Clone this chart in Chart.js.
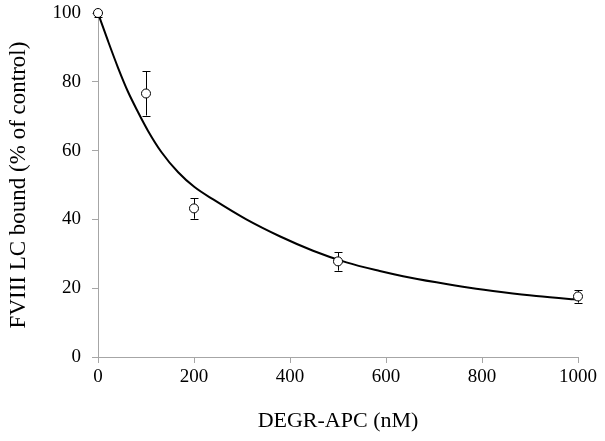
<!DOCTYPE html>
<html lang="en">
<head>
    <meta charset="UTF-8">
    <title>FVIII LC bound vs DEGR-APC</title>
    <style>
        body {
            margin: 0;
            padding: 0;
            background-color: #fff;
        }

        .canvas-container {
            width: 605px;
            height: 441px;
        }
    </style>
    <script src="https://cdn.jsdelivr.net/npm/chart.js@4.4.1/dist/chart.umd.min.js"></script>
</head>
<body>
    <div class="canvas-container">
        <canvas id="bindingChart"></canvas>
    </div>
    <script>
        // measured points (mean and error)
        const concentrations = [0, 100, 200, 500, 1000];
        const boundMeans = [100, 76.6, 43.2, 27.8, 17.6];
        const boundErrors = [1.2, 6.4, 3.0, 2.7, 1.8];

        // fitted curve
        const fitX = [0, 3.5, 21, 42, 62.5, 83, 104, 132, 167, 201, 240, 309, 378.5, 448, 517.5, 587, 635.5, 705, 774, 844, 913, 990, 1000];
        const fitY = [100, 98.6, 91.8, 84.0, 77.1, 71.3, 65.8, 59.6, 53.7, 49.4, 45.8, 40.0, 35.1, 30.9, 27.5, 25.0, 23.5, 21.7, 20.1, 18.8, 17.7, 16.8, 16.7];

        const xTicks = [0, 200, 400, 600, 800, 1000];
        const yTicks = [0, 20, 40, 60, 80, 100];

        const serif = "'Liberation Serif', 'Times New Roman', serif";

        const errorBars = {
            id: "errorBars",
            afterDatasetsDraw(chart) {
                const ctx = chart.ctx;
                const xScale = chart.scales.x;
                const yScale = chart.scales.y;
                ctx.save();
                ctx.strokeStyle = "#000";
                ctx.lineWidth = 1;
                concentrations.forEach((c, i) => {
                    const px = Math.round(xScale.getPixelForValue(c)) + 0.5;
                    const top = yScale.getPixelForValue(boundMeans[i] + boundErrors[i]);
                    const bottom = yScale.getPixelForValue(boundMeans[i] - boundErrors[i]);
                    const center = yScale.getPixelForValue(boundMeans[i]);
                    ctx.beginPath();
                    if (c > 0) {
                        ctx.moveTo(px, top);
                        ctx.lineTo(px, center - 4.5);
                        ctx.moveTo(px - 4, Math.round(top) + 0.5);
                        ctx.lineTo(px + 4, Math.round(top) + 0.5);
                    }
                    ctx.moveTo(px, center + 4.5);
                    ctx.lineTo(px, bottom);
                    ctx.moveTo(px - 4, Math.round(bottom) + 0.5);
                    ctx.lineTo(px + 4, Math.round(bottom) + 0.5);
                    ctx.stroke();
                });
                ctx.restore();
            }
        };

        const chartElement = document.getElementById("bindingChart");
        const bindingChart = new Chart(chartElement, {
            type: "scatter",
            data: {
                datasets: [
                    {
                        label: "Measured",
                        data: concentrations.map((c, i) => ({ x: c, y: boundMeans[i] })),
                        pointRadius: 4.5,
                        pointBackgroundColor: "#fff",
                        pointBorderColor: "#000",
                        pointBorderWidth: 1,
                        showLine: false,
                        clip: false,
                    },
                    {
                        label: "Fit",
                        data: fitX.map((x, i) => ({ x: x, y: fitY[i] })),
                        showLine: true,
                        borderColor: "#000",
                        borderWidth: 2,
                        pointRadius: 0,
                        cubicInterpolationMode: "monotone",
                        fill: false,
                    },
                ],
            },
            options: {
                responsive: true,
                maintainAspectRatio: false,
                animation: false,
                devicePixelRatio: 1,
                layout: {
                    padding: { top: 13, right: 27, left: 0, bottom: 0 },
                },
                plugins: {
                    legend: { display: false },
                    tooltip: { enabled: false },
                },
                scales: {
                    x: {
                        type: "linear",
                        min: 0,
                        max: 1000,
                        afterBuildTicks: (axis) => {
                            axis.ticks = xTicks.map((v) => ({ value: v }));
                        },
                        afterFit: (axis) => {
                            axis.height = 84;
                            axis.paddingLeft = 0;
                            axis.paddingRight = 0;
                        },
                        border: { color: "#a6a6a6", width: 1 },
                        grid: {
                            display: true,
                            drawOnChartArea: false,
                            drawTicks: true,
                            tickLength: 6,
                            color: "#a6a6a6",
                        },
                        ticks: {
                            color: "#000",
                            padding: 3,
                            maxRotation: 0,
                            callback: (value) => String(value),
                            font: { family: serif, size: 19 },
                        },
                        title: {
                            display: true,
                            text: "DEGR-APC (nM)",
                            color: "#000",
                            padding: { top: 0, bottom: 7 },
                            font: { family: serif, size: 22 },
                        },
                    },
                    y: {
                        type: "linear",
                        min: 0,
                        max: 100,
                        afterBuildTicks: (axis) => {
                            axis.ticks = yTicks.map((v) => ({ value: v }));
                        },
                        afterFit: (axis) => {
                            axis.width = 98;
                            axis.paddingTop = 0;
                            axis.paddingBottom = 0;
                        },
                        border: { color: "#a6a6a6", width: 1 },
                        grid: {
                            display: true,
                            drawOnChartArea: false,
                            drawTicks: true,
                            tickLength: 6,
                            color: "#a6a6a6",
                        },
                        ticks: {
                            color: "#000",
                            padding: 11,
                            callback: (value) => String(value),
                            font: { family: serif, size: 19 },
                        },
                        title: {
                            display: true,
                            text: "FVIII LC bound (% of control)",
                            color: "#000",
                            padding: { top: 5, bottom: 0 },
                            font: { family: serif, size: 23 },
                        },
                    },
                },
            },
            plugins: [errorBars],
        });
    </script>
</body>
</html>
